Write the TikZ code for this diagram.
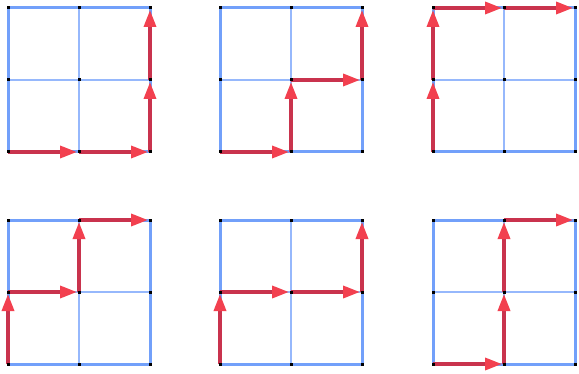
\documentclass[tikz,border=0pt]{standalone}
\usepackage{xcolor}
\definecolor{gridblue}{HTML}{72A0FA}
\definecolor{innerblue}{HTML}{96B8FC}
\definecolor{pathred}{HTML}{C9334D}
\definecolor{tipred}{HTML}{F2404F}
\usepackage{tikz}
\usetikzlibrary{arrows.meta}
\tikzset{
  gridline/.style ={draw=gridblue, line width=3pt},
  innerline/.style={draw=innerblue, line width=2.2pt},
  pathstep/.style ={draw=pathred, line width=3.4pt, shorten >=2pt,
                    -{Triangle[length=17pt, width=12pt, color=tipred, fill=tipred]}},
  latpt/.style    ={fill=black, minimum size=3pt, inner sep=0pt, outer sep=0pt},
}
% #1 name, #2/#3 lower left corner
\newcommand{\lattice}[3]{%
  \foreach \i in {0,1,2}{
    \foreach \j in {0,1,2}{
      \coordinate (#1-\i\j) at ({#2+71*\i},{#3+72*\j});
    }
  }
  \draw[innerline] (#1-10) -- (#1-12) (#1-01) -- (#1-21);
  \draw[gridline] (#1-00) rectangle (#1-22);
}
\newcommand{\latdots}[1]{%
  \foreach \i in {0,1,2}{
    \foreach \j in {0,1,2}{
      \node[latpt] (#1-d\i\j) at (#1-\i\j) {};
    }
  }
}

\begin{document}
\begin{tikzpicture}[x=1pt, y=1pt]
  \useasboundingbox (0,0) rectangle (579,373);

  \lattice{ga}{8}{221}
  \lattice{gb}{220}{221}
  \lattice{gc}{433}{221}
  \lattice{gd}{8}{9}
  \lattice{ge}{220}{9}
  \lattice{gf}{433}{9}

  % right right up up
  \foreach \p/\q in {00/10,10/20,20/21,21/22}
    \draw[pathstep] (ga-\p) -- (ga-\q);
  % right up right up
  \foreach \p/\q in {00/10,10/11,11/21,21/22}
    \draw[pathstep] (gb-\p) -- (gb-\q);
  % up up right right
  \foreach \p/\q in {00/01,01/02,02/12,12/22}
    \draw[pathstep] (gc-\p) -- (gc-\q);
  % up right up right
  \foreach \p/\q in {00/01,01/11,11/12,12/22}
    \draw[pathstep] (gd-\p) -- (gd-\q);
  % up right right up
  \foreach \p/\q in {00/01,01/11,11/21,21/22}
    \draw[pathstep] (ge-\p) -- (ge-\q);
  % right up up right
  \foreach \p/\q in {00/10,10/11,11/12,12/22}
    \draw[pathstep] (gf-\p) -- (gf-\q);

  \foreach \g in {ga,gb,gc,gd,ge,gf}{
    \latdots{\g}
  }
\end{tikzpicture}
\end{document}
